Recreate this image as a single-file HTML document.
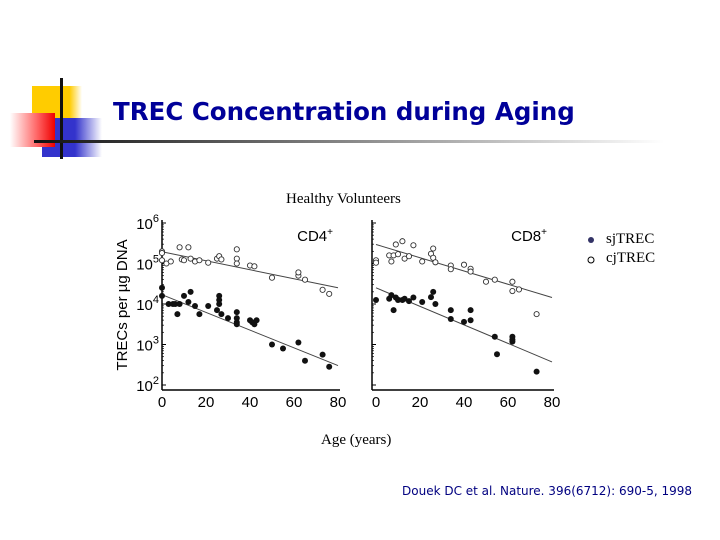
<!DOCTYPE html>
<html><head><meta charset="utf-8"><style>
body{margin:0;width:720px;height:540px;background:#fff;overflow:hidden;position:relative;font-family:"Liberation Sans",sans-serif}
.a{position:absolute}
</style></head><body>
<div class="a" style="left:32px;top:86px;width:50px;height:33px;background:linear-gradient(90deg,#ffcc00 0%,#ffcc00 75%,#fff 100%)"></div>
<div class="a" style="left:42px;top:118px;width:60px;height:39px;background:linear-gradient(90deg,#3333cc 0%,#3333cc 55%,#fff 100%)"></div>
<div class="a" style="left:10px;top:113px;width:45px;height:34px;background:linear-gradient(90deg,#fff 0%,#ff6666 60%,#ee0000 100%)"></div>
<div class="a" style="left:60px;top:78px;width:3px;height:81px;background:#111"></div>
<div class="a" style="left:34px;top:140px;width:630px;height:3px;background:linear-gradient(90deg,#111,#888 50%,#fff)"></div>
<div class="a" style="left:113px;top:97px;font-family:'DejaVu Sans',sans-serif;font-size:24.5px;font-weight:bold;color:#000099;white-space:nowrap">TREC Concentration during Aging</div>
<div class="a" style="left:286px;top:191px;font-family:'Liberation Serif',serif;font-size:15px">Healthy Volunteers</div>
<div class="a" style="left:321px;top:432px;font-family:'Liberation Serif',serif;font-size:15px">Age (years)</div>
<div class="a" style="left:402px;top:484px;font-family:'DejaVu Sans',sans-serif;font-size:12px;color:#000080;white-space:nowrap">Douek DC et al. Nature. 396(6712): 690-5, 1998</div>
<div class="a" style="left:606px;top:231px;font-family:'Liberation Serif',serif;font-size:15px">sjTREC</div>
<div class="a" style="left:606px;top:250px;font-family:'Liberation Serif',serif;font-size:15px">cjTREC</div>
<svg class="a" style="left:0;top:0" width="720" height="540" id="chart">
<circle cx="591" cy="240" r="3" fill="#336"/>
<circle cx="591" cy="260" r="3" fill="#fff" stroke="#000"/>
</svg>
<script>
const cd4OpenAge=[0,0,0,2,4,8,9,10,12,13,15,17,21,25,26,27,34,34,34,40,42,50,62,62,65,73,76];
const cd4OpenLog=[5.3,5.26,5.08,5.0,5.05,5.4,5.1,5.08,5.4,5.12,5.05,5.08,5.02,5.12,5.18,5.1,5.35,5.12,5.0,4.95,4.93,4.65,4.7,4.78,4.6,4.35,4.25];
const cd4FillAge=[0,0,3,5,6,7,8,10,12,13,15,17,21,25,26,26,26,27,30,34,34,34,34,40,41,42,43,50,55,62,65,73,76];
const cd4FillLog=[4.4,4.2,4.0,4.0,4.0,3.75,4.0,4.2,4.05,4.3,3.95,3.75,3.95,3.85,4.2,4.1,4.0,3.75,3.65,3.8,3.65,3.55,3.5,3.6,3.55,3.5,3.6,3.0,2.9,3.05,2.6,2.75,2.45];
const cd4OpenFit=[5.29,4.4];
const cd4FillFit=[4.23,2.48];
const cd8OpenAge=[0,0,6,7,8,9,10,12,13,15,17,21,25,26,26,27,34,34,40,43,43,50,54,62,62,65,73];
const cd8OpenLog=[5.08,5.02,5.2,5.05,5.2,5.47,5.23,5.55,5.12,5.18,5.45,5.05,5.24,5.37,5.14,5.03,4.95,4.86,4.97,4.87,4.8,4.55,4.6,4.55,4.32,4.36,3.75];
const cd8FillAge=[0,6,7,8,9,10,12,13,15,17,21,25,26,27,34,34,40,43,43,54,55,62,62,62,73];
const cd8FillLog=[4.1,4.13,4.22,3.85,4.16,4.1,4.1,4.13,4.07,4.16,4.05,4.17,4.3,4.0,3.85,3.63,3.56,3.85,3.6,3.19,2.76,3.19,3.12,3.07,2.33];
const cd8OpenFit=[5.47,4.16];
const cd8FillFit=[4.4,2.57];
const xTicks=[0,20,40,60,80];
const yTicks=[2,3,4,5,6];
const svg=document.getElementById('chart');
const NS='http://www.w3.org/2000/svg';
function mk(t,a){const e=document.createElementNS(NS,t);for(const k in a)e.setAttribute(k,a[k]);svg.appendChild(e);return e;}
const yS=v=>223+(6-v)*40.5;
function panel(name,x0,axisX,openA,openL,fillA,fillL,oFit,fFit,label,showY){
  const xS=v=>x0+v*2.2;
  let e=mk('line',{x1:axisX,y1:220,x2:axisX,y2:390,stroke:'#000','stroke-width':1.5});
  
  e=mk('line',{x1:axisX,y1:390,x2:xS(80)+2,y2:390,stroke:'#000','stroke-width':1.5});
  
  for(let d=2;d<6;d++)for(let m=2;m<10;m++){const yy=yS(d+Math.log10(m));e=mk('line',{x1:axisX,y1:yy,x2:axisX+2,y2:yy,stroke:'#000','stroke-width':0.7});}
  yTicks.forEach(v=>{e=mk('line',{x1:axisX,y1:yS(v),x2:axisX+4,y2:yS(v),stroke:'#000'});
    if(showY){const t=mk('text',{x:axisX-3,y:yS(v)+6,'text-anchor':'end','font-size':15,'font-family':'Liberation Sans'});t.textContent='10';const s=document.createElementNS(NS,'tspan');s.setAttribute('dy',-7);s.setAttribute('font-size',11);s.textContent=v;t.appendChild(s);}});
  xTicks.forEach(v=>{const t=mk('text',{x:xS(v),y:407,'text-anchor':'middle','font-size':15,'font-family':'Liberation Sans'});t.textContent=v;});
  e=mk('line',{x1:xS(0),y1:yS(oFit[0]),x2:xS(80),y2:yS(oFit[1]),stroke:'#444','stroke-width':1});
  e=mk('line',{x1:xS(0),y1:yS(fFit[0]),x2:xS(80),y2:yS(fFit[1]),stroke:'#444','stroke-width':1});
  openA.forEach((a,i)=>{const c=mk('circle',{cx:xS(a),cy:yS(openL[i]),r:2.6,fill:'#fff',stroke:'#333','stroke-width':0.9});});
  fillA.forEach((a,i)=>{const c=mk('circle',{cx:xS(a),cy:yS(fillL[i]),r:3,fill:'#111'});});
  const t=mk('text',{x:xS(80)-5,y:241,'text-anchor':'end','font-size':15,'font-family':'Liberation Sans'});t.textContent=label;const s=document.createElementNS(NS,'tspan');s.setAttribute('dy',-6);s.setAttribute('font-size',10);s.textContent='+';t.appendChild(s);
  
}
panel('cd4',162,162,cd4OpenAge,cd4OpenLog,cd4FillAge,cd4FillLog,cd4OpenFit,cd4FillFit,'CD4',true);
panel('cd8',376,372,cd8OpenAge,cd8OpenLog,cd8FillAge,cd8FillLog,cd8OpenFit,cd8FillFit,'CD8',false);
const yt=mk('text',{x:0,y:0,'text-anchor':'middle','font-size':15,'font-family':'Liberation Sans',transform:'translate(127,305) rotate(-90)'});
yt.textContent='TRECs per  µg DNA';


</script>
</body></html>
